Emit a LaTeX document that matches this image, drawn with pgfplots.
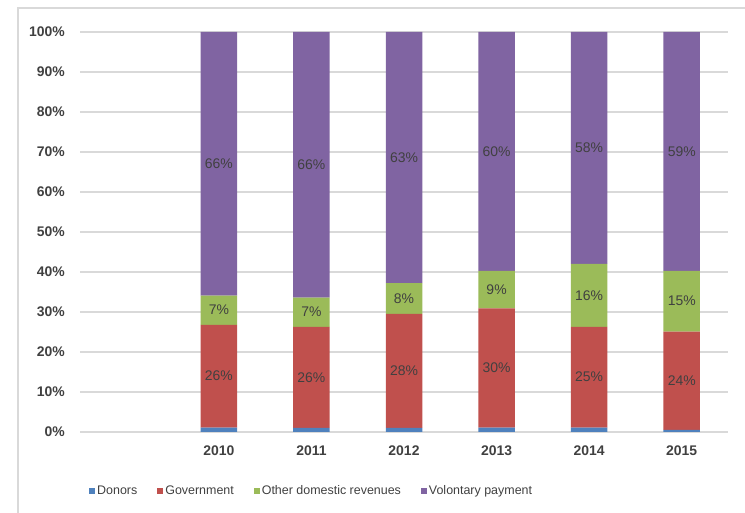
\documentclass[border=0pt]{standalone}
\usepackage{pgfplots}
\pgfplotsset{compat=1.18}
\usepackage{fontspec}
\setmainfont{Liberation Sans}
\definecolor{cDon}{HTML}{4F81BD}
\definecolor{cGov}{HTML}{C0504D}
\definecolor{cOth}{HTML}{9BBB59}
\definecolor{cVol}{HTML}{8064A2}
\definecolor{txt}{HTML}{404040}
\definecolor{gridc}{HTML}{D9D9D9}
\pgfplotsset{
  base/.style={
    scale only axis, width=648bp, height=400bp,
    at={(80bp,81bp)}, anchor=south west,
    xmin=-0.5, xmax=6.5, ymin=0, ymax=100,
  }
}
\begin{document}
\begin{tikzpicture}
\useasboundingbox (0,0) rectangle (745bp,513bp);
\draw[gridc, line width=1.2bp] (18bp,0) -- (18bp,505bp) -- (745bp,505bp);
\begin{axis}[base, ybar stacked, bar width=36.5bp,
  axis line style={draw=none}, major tick length=0pt,
  ymajorgrids, grid style={gridc, line width=1.2bp},
  xtick={1,2,3,4,5,6}, xticklabels={2010,2011,2012,2013,2014,2015},
  ytick={0,10,20,30,40,50,60,70,80,90,100},
  yticklabels={0\%,10\%,20\%,30\%,40\%,50\%,60\%,70\%,80\%,90\%,100\%},
  tick label style={font=\fontsize{14}{16}\selectfont\bfseries, text=txt, inner sep=0pt},
  yticklabel shift=15bp, xticklabel shift=14bp,
  legend image code/.code={\fill[#1] (0bp,-3bp) rectangle (6bp,3bp);},
  legend columns=4,
  legend style={at={(0.0093,-0.147)}, anchor=west, draw=none, fill=none,
    font=\fontsize{12.5}{14}\selectfont, text=txt,
    /tikz/every even column/.append style={column sep=18bp}},
  legend cell align=left,
]
\addplot[fill=cDon, draw=none] coordinates {(1,1.1) (2,1.0) (3,1.0) (4,1.1) (5,1.1) (6,0.5)};
\addplot[fill=cGov, draw=none] coordinates {(1,25.7) (2,25.3) (3,28.5) (4,29.8) (5,25.2) (6,24.6)};
\addplot[fill=cOth, draw=none] coordinates {(1,7.3) (2,7.3) (3,7.7) (4,9.4) (5,15.7) (6,15.2)};
\addplot[fill=cVol, draw=none] coordinates {(1,65.9) (2,66.4) (3,62.8) (4,59.7) (5,58.0) (6,59.7)};
\legend{Donors, Government, Other domestic revenues, Volontary payment}
\end{axis}
\begin{axis}[base, hide axis, clip=false]
\addplot[draw=none, mark=none, nodes near coords, point meta=explicit symbolic,
  nodes near coords style={anchor=center, font=\fontsize{14}{16}\selectfont, text=txt}]
  coordinates {
   (1,13.95) [26\%] (2,13.65) [26\%] (3,15.25) [28\%] (4,16.0) [30\%] (5,13.7) [25\%] (6,12.8) [24\%]
   (1,30.45) [7\%] (2,29.95) [7\%] (3,33.35) [8\%] (4,35.6) [9\%] (5,34.15) [16\%] (6,32.7) [15\%]
   (1,67.05) [66\%] (2,66.8) [66\%] (3,68.6) [63\%] (4,70.15) [60\%] (5,71.0) [58\%] (6,70.15) [59\%]
  };
\end{axis}
\end{tikzpicture}
\end{document}
